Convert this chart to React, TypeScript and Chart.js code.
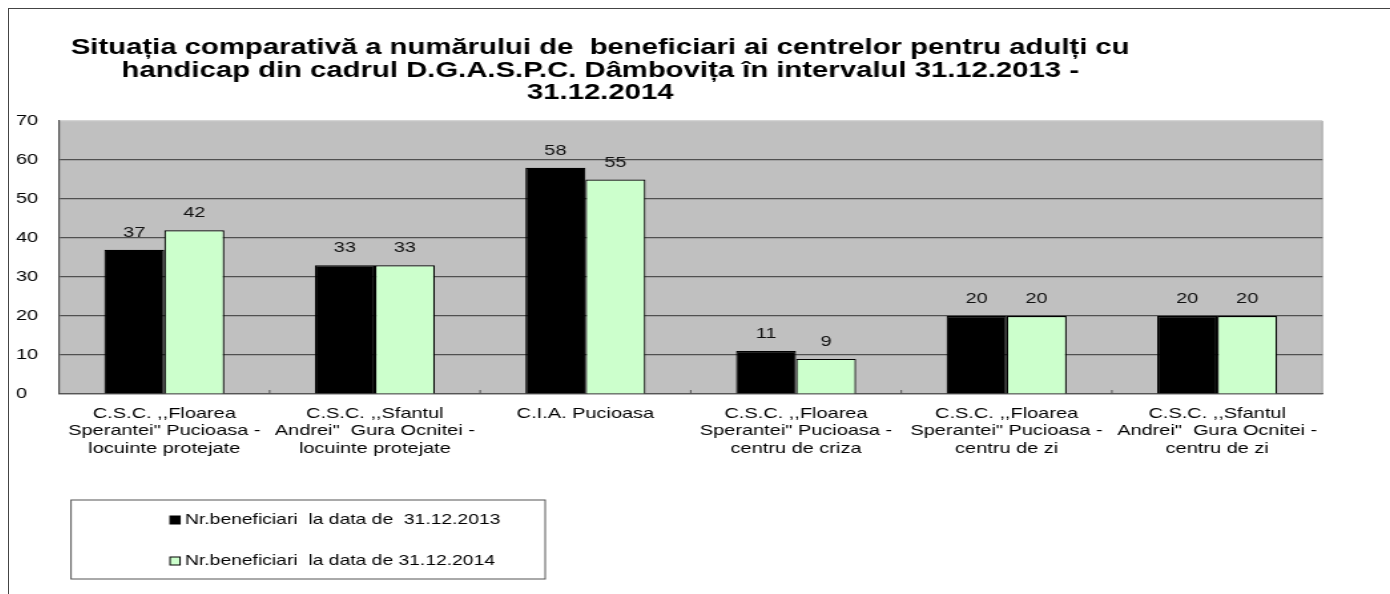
import React, { useEffect, useRef } from "react";
import { Chart, registerables } from "chart.js";

Chart.register(...registerables);

// ---------- data ----------
const TITLE_LINES = [
  "Situația comparativă a numărului de  beneficiari ai centrelor pentru adulți cu",
  "handicap din cadrul D.G.A.S.P.C. Dâmbovița în intervalul 31.12.2013 -",
  "31.12.2014",
];

const CATEGORIES = [
  ["C.S.C. ,,Floarea", "Sperantei\" Pucioasa -", "locuinte protejate"],
  ["C.S.C. ,,Sfantul", "Andrei\"  Gura Ocnitei -", "locuinte protejate"],
  ["C.I.A. Pucioasa"],
  ["C.S.C. ,,Floarea", "Sperantei\" Pucioasa -", "centru de criza"],
  ["C.S.C. ,,Floarea", "Sperantei\" Pucioasa -", "centru de zi"],
  ["C.S.C. ,,Sfantul", "Andrei\"  Gura Ocnitei -", "centru de zi"],
];

const SERIES_LABELS = [
  "Nr.beneficiari  la data de  31.12.2013",
  "Nr.beneficiari  la data de 31.12.2014",
];

const VALUES_2013 = [37, 33, 58, 11, 20, 20];
const VALUES_2014 = [42, 33, 55, 9, 20, 20];

const Y_MIN = 0;
const Y_MAX = 70;
const Y_STEP = 10;

// ---------- styling / geometry ----------
const STRETCH = 1.33; // the reference is horizontally stretched
const PAGE_W = 1381;
const PAGE_H = 585;
const W = Math.round(PAGE_W / STRETCH);
const H = PAGE_H;
const FONT = '"Liberation Sans", Arial, Helvetica, sans-serif';
const px = (pageX: number) => (pageX - 9) / STRETCH;
const py = (pageY: number) => pageY - 9;

const COLORS = ["#000000", "#ccffcc"];

const backgroundPlugin = {
  id: "plotBg",
  beforeDraw(chart: any) {
    const { ctx, chartArea: a } = chart;
    ctx.save();
    ctx.fillStyle = "#c0c0c0";
    ctx.fillRect(a.left, a.top, a.right - a.left, a.bottom - a.top);
    ctx.strokeStyle = "#a8a8a8";
    ctx.lineWidth = 1;
    ctx.beginPath();
    ctx.moveTo(a.right, a.top);
    ctx.lineTo(a.right, a.bottom);
    ctx.stroke();
    ctx.restore();
  },
};

const ticksPlugin = {
  id: "xInnerTicks",
  afterDatasetsDraw(chart: any) {
    const { ctx, chartArea: a } = chart;
    const xs = chart.scales.x;
    ctx.save();
    ctx.strokeStyle = "#555";
    ctx.lineWidth = 1;
    for (let i = 1; i < CATEGORIES.length; i++) {
      const x = (xs.getPixelForTick(i - 1) + xs.getPixelForTick(i)) / 2;
      ctx.beginPath();
      ctx.moveTo(x, a.bottom);
      ctx.lineTo(x, a.bottom - 4);
      ctx.stroke();
    }
    ctx.restore();
  },
};

const valuesPlugin = {
  id: "barValues",
  afterDatasetsDraw(chart: any) {
    const { ctx } = chart;
    ctx.save();
    ctx.fillStyle = "#111";
    ctx.font = `15px ${FONT}`;
    ctx.textAlign = "center";
    ctx.textBaseline = "alphabetic";
    chart.data.datasets.forEach((ds: any, d: number) => {
      chart.getDatasetMeta(d).data.forEach((bar: any, i: number) => {
        ctx.fillText(String(ds.data[i]), bar.x, bar.y - 13);
      });
    });
    ctx.restore();
  },
};

const titlePlugin = {
  id: "customTitle",
  afterDraw(chart: any) {
    const { ctx } = chart;
    ctx.save();
    ctx.fillStyle = "#000";
    ctx.font = `bold 22px ${FONT}`;
    ctx.textAlign = "center";
    ctx.textBaseline = "alphabetic";
    const cx = px(600);
    const baselines = [py(54), py(77), py(99)];
    TITLE_LINES.forEach((line, i) => ctx.fillText(line, cx, baselines[i]));
    ctx.restore();
  },
};

const legendPlugin = {
  id: "boxLegend",
  afterDraw(chart: any) {
    const { ctx } = chart;
    ctx.save();
    const left = px(71);
    const right = px(545);
    const top = py(500);
    const bottom = py(579);
    ctx.strokeStyle = "#555";
    ctx.lineWidth = 1;
    ctx.strokeRect(left, top, right - left, bottom - top);
    const rows = [py(524), py(565)];
    ctx.font = `14.5px ${FONT}`;
    ctx.textBaseline = "alphabetic";
    ctx.textAlign = "left";
    chart.data.datasets.forEach((ds: any, d: number) => {
      const base = rows[d];
      const sx = px(170);
      const sw = 10 / STRETCH;
      const sh = 8;
      ctx.fillStyle = ds.backgroundColor;
      ctx.fillRect(sx, base - 8, sw, sh);
      ctx.strokeStyle = "#000";
      ctx.lineWidth = 1;
      ctx.strokeRect(sx, base - 8, sw, sh);
      ctx.fillStyle = "#000";
      ctx.fillText(ds.label, px(185), base);
    });
    ctx.restore();
  },
};

export default function App() {
  const ref = useRef<HTMLCanvasElement | null>(null);

  useEffect(() => {
    if (!ref.current) return;
    const chart = new Chart(ref.current, {
      type: "bar",
      data: {
        labels: CATEGORIES,
        datasets: [
          {
            label: SERIES_LABELS[0],
            data: VALUES_2013,
            backgroundColor: COLORS[0],
            borderColor: "#000",
            borderWidth: 1.2,
            borderSkipped: "bottom",
          },
          {
            label: SERIES_LABELS[1],
            data: VALUES_2014,
            backgroundColor: COLORS[1],
            borderColor: "#000",
            borderWidth: 1.2,
            borderSkipped: "bottom",
          },
        ],
      },
      options: {
        responsive: false,
        animation: false,
        devicePixelRatio: 1,
        layout: {
          padding: {
            left: px(16),
            right: W - px(1322),
            top: py(121),
            bottom: 0,
          },
        },
        datasets: {
          bar: { categoryPercentage: 0.57, barPercentage: 1 },
        },
        plugins: {
          legend: { display: false },
          title: { display: false },
          tooltip: { enabled: false },
        },
        scales: {
          x: {
            grid: { display: false },
            border: { display: true, color: "#555", width: 1.2 },
            ticks: {
              color: "#000",
              font: { family: FONT, size: 15, lineHeight: 1.17 },
              maxRotation: 0,
              minRotation: 0,
              autoSkip: false,
              padding: 3,
            },
            afterFit(scale: any) {
              scale.height = H - py(394);
            },
          },
          y: {
            min: Y_MIN,
            max: Y_MAX,
            ticks: {
              stepSize: Y_STEP,
              color: "#000",
              font: { family: FONT, size: 15 },
              crossAlign: "far",
              padding: 0,
            },
            grid: {
              color: (c: any) => (c.tick && c.tick.value === Y_MAX ? "#d4d4d4" : "#505050"),
              lineWidth: 1.2,
              drawTicks: false,
            },
            border: { display: true, color: "#505050", width: 1.2 },
            afterFit(scale: any) {
              scale.width = px(59) - px(16);
            },
          },
        },
      } as any,
      plugins: [backgroundPlugin, ticksPlugin, valuesPlugin, titlePlugin, legendPlugin],
    });
    return () => chart.destroy();
  }, []);

  return (
    <div
      style={{
        position: "fixed",
        left: 8,
        top: 8,
        right: 0,
        bottom: 0,
        borderTop: "1px solid #444",
        borderLeft: "1px solid #444",
        background: "#fff",
        overflow: "hidden",
      }}
    >
      <canvas
        ref={ref}
        width={W}
        height={H}
        style={{ width: `${PAGE_W}px`, height: `${PAGE_H}px`, display: "block" }}
      />
    </div>
  );
}
